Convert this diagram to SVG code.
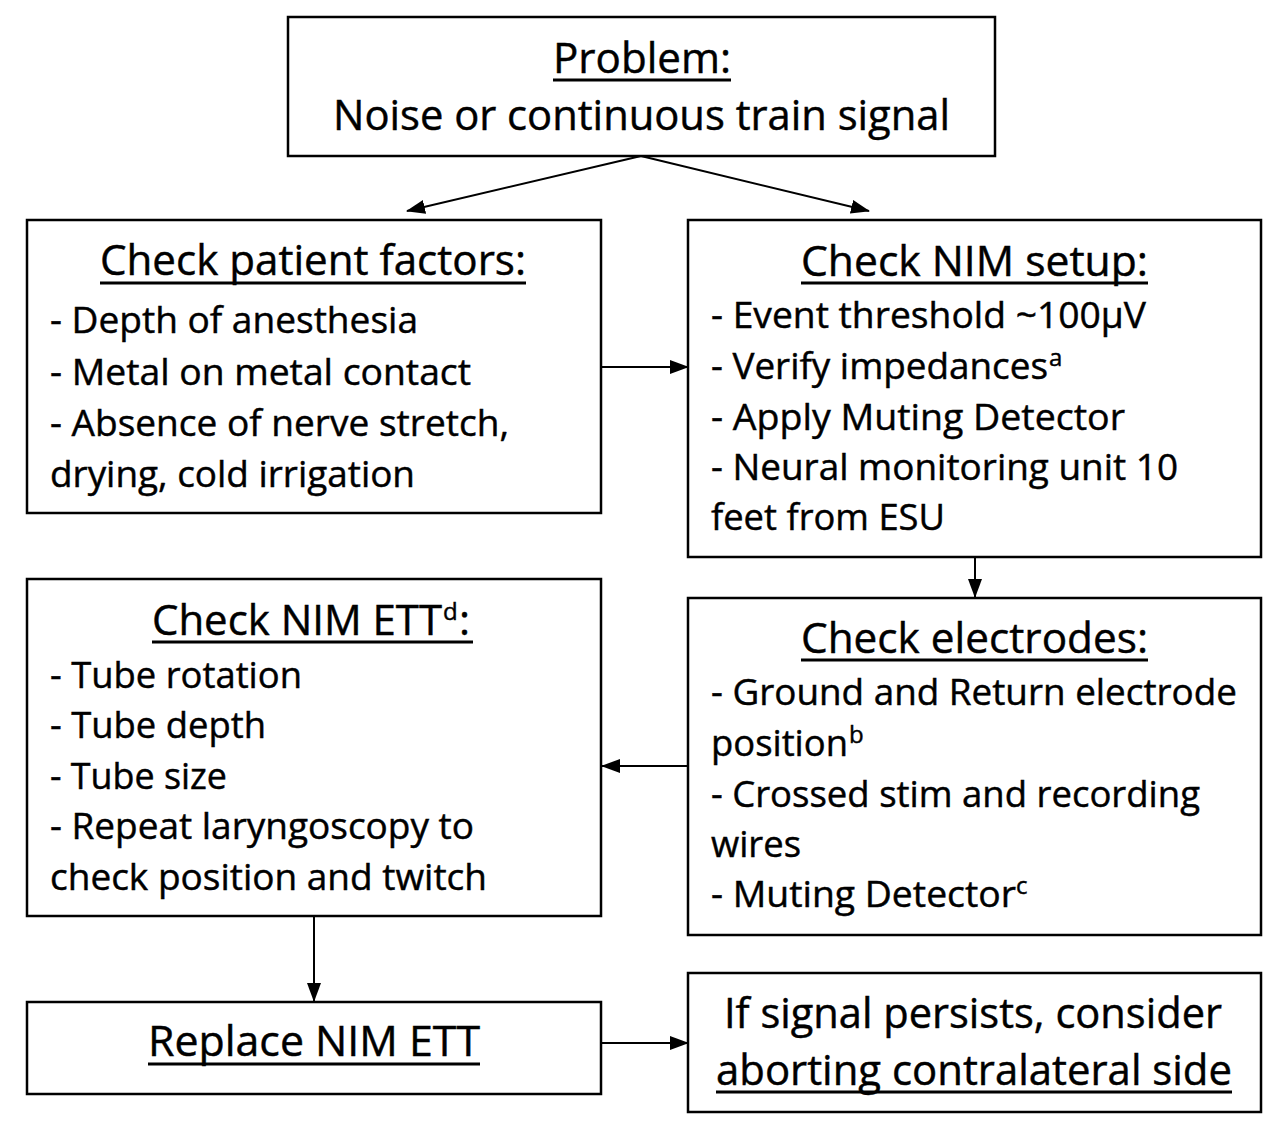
<svg xmlns="http://www.w3.org/2000/svg" width="1286" height="1123" viewBox="0 0 1286 1123">
<defs>
<marker id="ah" markerWidth="19" markerHeight="14" refX="18" refY="7" orient="auto" markerUnits="userSpaceOnUse">
<path d="M0,0 L19,7 L0,14 Z" fill="#000"/>
</marker>
</defs>
<style>
.box{fill:#fff;stroke:#000;stroke-width:2.5}
.t{font-family:"Open Sans","Noto Sans",sans-serif;fill:#000;stroke:#000;stroke-width:0.45}
.h{font-size:42px}
.b{font-size:37px}
.sup{font-size:24px}
.ul{stroke:#000;stroke-width:3}
.c{stroke:#000;stroke-width:2;fill:none;marker-end:url(#ah)}
</style>
<rect width="1286" height="1123" fill="#fff"/>
<g id="connectors">
<line class="c" x1="641" y1="156" x2="407" y2="211"/>
<line class="c" x1="641" y1="156" x2="869" y2="211"/>
<line class="c" x1="601" y1="367" x2="688" y2="367"/>
<line class="c" x1="975" y1="557" x2="975" y2="597"/>
<line class="c" x1="688" y1="766" x2="602" y2="766"/>
<line class="c" x1="314" y1="916" x2="314" y2="1001"/>
<line class="c" x1="601" y1="1043" x2="688" y2="1043"/>
</g>
<g id="problem">
<rect class="box" x="288" y="17" width="707" height="139"/>
<text class="t h" x="553" y="73" textLength="178" lengthAdjust="spacingAndGlyphs">Problem:</text>
<line class="ul" x1="553" y1="80" x2="731" y2="80"/>
<text class="t h" x="333" y="130" textLength="617" lengthAdjust="spacingAndGlyphs">Noise or continuous train signal</text>
</g>
<g id="patient">
<rect class="box" x="27" y="220" width="574" height="293"/>
<text class="t h" x="100" y="275" textLength="426" lengthAdjust="spacingAndGlyphs">Check patient factors:</text>
<line class="ul" x1="100" y1="283" x2="526" y2="283"/>
<text class="t b" x="50" y="333" textLength="368" lengthAdjust="spacingAndGlyphs">- Depth of anesthesia</text>
<text class="t b" x="50" y="385" textLength="421" lengthAdjust="spacingAndGlyphs">- Metal on metal contact</text>
<text class="t b" x="50" y="436" textLength="459" lengthAdjust="spacingAndGlyphs">- Absence of nerve stretch,</text>
<text class="t b" x="50" y="487" textLength="365" lengthAdjust="spacingAndGlyphs">drying, cold irrigation</text>
</g>
<g id="nimsetup">
<rect class="box" x="688" y="220" width="573" height="337"/>
<text class="t h" x="801" y="276" textLength="347" lengthAdjust="spacingAndGlyphs">Check NIM setup:</text>
<line class="ul" x1="801" y1="283" x2="1148" y2="283"/>
<text class="t b" x="711" y="328" textLength="435" lengthAdjust="spacingAndGlyphs">- Event threshold ~100µV</text>
<text class="t b" x="711" y="379" textLength="337" lengthAdjust="spacingAndGlyphs">- Verify impedances</text>
<text class="t sup" x="1049" y="366">a</text>
<text class="t b" x="711" y="430" textLength="414" lengthAdjust="spacingAndGlyphs">- Apply Muting Detector</text>
<text class="t b" x="711" y="480" textLength="467" lengthAdjust="spacingAndGlyphs">- Neural monitoring unit 10</text>
<text class="t b" x="711" y="530" textLength="234" lengthAdjust="spacingAndGlyphs">feet from ESU</text>
</g>
<g id="ett">
<rect class="box" x="27" y="579" width="574" height="337"/>
<text class="t h" x="152" y="635" textLength="290" lengthAdjust="spacingAndGlyphs">Check NIM ETT</text>
<text class="t sup" x="443" y="620">d</text>
<text class="t h" x="459" y="635">:</text>
<line class="ul" x1="152" y1="642" x2="473" y2="642"/>
<text class="t b" x="50" y="688" textLength="252" lengthAdjust="spacingAndGlyphs">- Tube rotation</text>
<text class="t b" x="50" y="738" textLength="216" lengthAdjust="spacingAndGlyphs">- Tube depth</text>
<text class="t b" x="50" y="789" textLength="177" lengthAdjust="spacingAndGlyphs">- Tube size</text>
<text class="t b" x="50" y="839" textLength="424" lengthAdjust="spacingAndGlyphs">- Repeat laryngoscopy to</text>
<text class="t b" x="50" y="890" textLength="437" lengthAdjust="spacingAndGlyphs">check position and twitch</text>
</g>
<g id="electrodes">
<rect class="box" x="688" y="598" width="573" height="337"/>
<text class="t h" x="801" y="653" textLength="347" lengthAdjust="spacingAndGlyphs">Check electrodes:</text>
<line class="ul" x1="801" y1="660" x2="1148" y2="660"/>
<text class="t b" x="711" y="705" textLength="526" lengthAdjust="spacingAndGlyphs">- Ground and Return electrode</text>
<text class="t b" x="711" y="756" textLength="137" lengthAdjust="spacingAndGlyphs">position</text>
<text class="t sup" x="849" y="743">b</text>
<text class="t b" x="711" y="807" textLength="489" lengthAdjust="spacingAndGlyphs">- Crossed stim and recording</text>
<text class="t b" x="711" y="857" textLength="90" lengthAdjust="spacingAndGlyphs">wires</text>
<text class="t b" x="711" y="907" textLength="305" lengthAdjust="spacingAndGlyphs">- Muting Detector</text>
<text class="t sup" x="1016" y="894">c</text>
</g>
<g id="replace">
<rect class="box" x="27" y="1002" width="574" height="92"/>
<text class="t h" x="148" y="1056" textLength="332" lengthAdjust="spacingAndGlyphs">Replace NIM ETT</text>
<line class="ul" x1="148" y1="1064" x2="480" y2="1064"/>
</g>
<g id="abort">
<rect class="box" x="688" y="973" width="573" height="139"/>
<text class="t h" x="724" y="1028" textLength="498" lengthAdjust="spacingAndGlyphs">If signal persists, consider</text>
<text class="t h" x="716" y="1085" textLength="516" lengthAdjust="spacingAndGlyphs">aborting contralateral side</text>
<line class="ul" x1="716" y1="1092" x2="1232" y2="1092"/>
</g>
</svg>
